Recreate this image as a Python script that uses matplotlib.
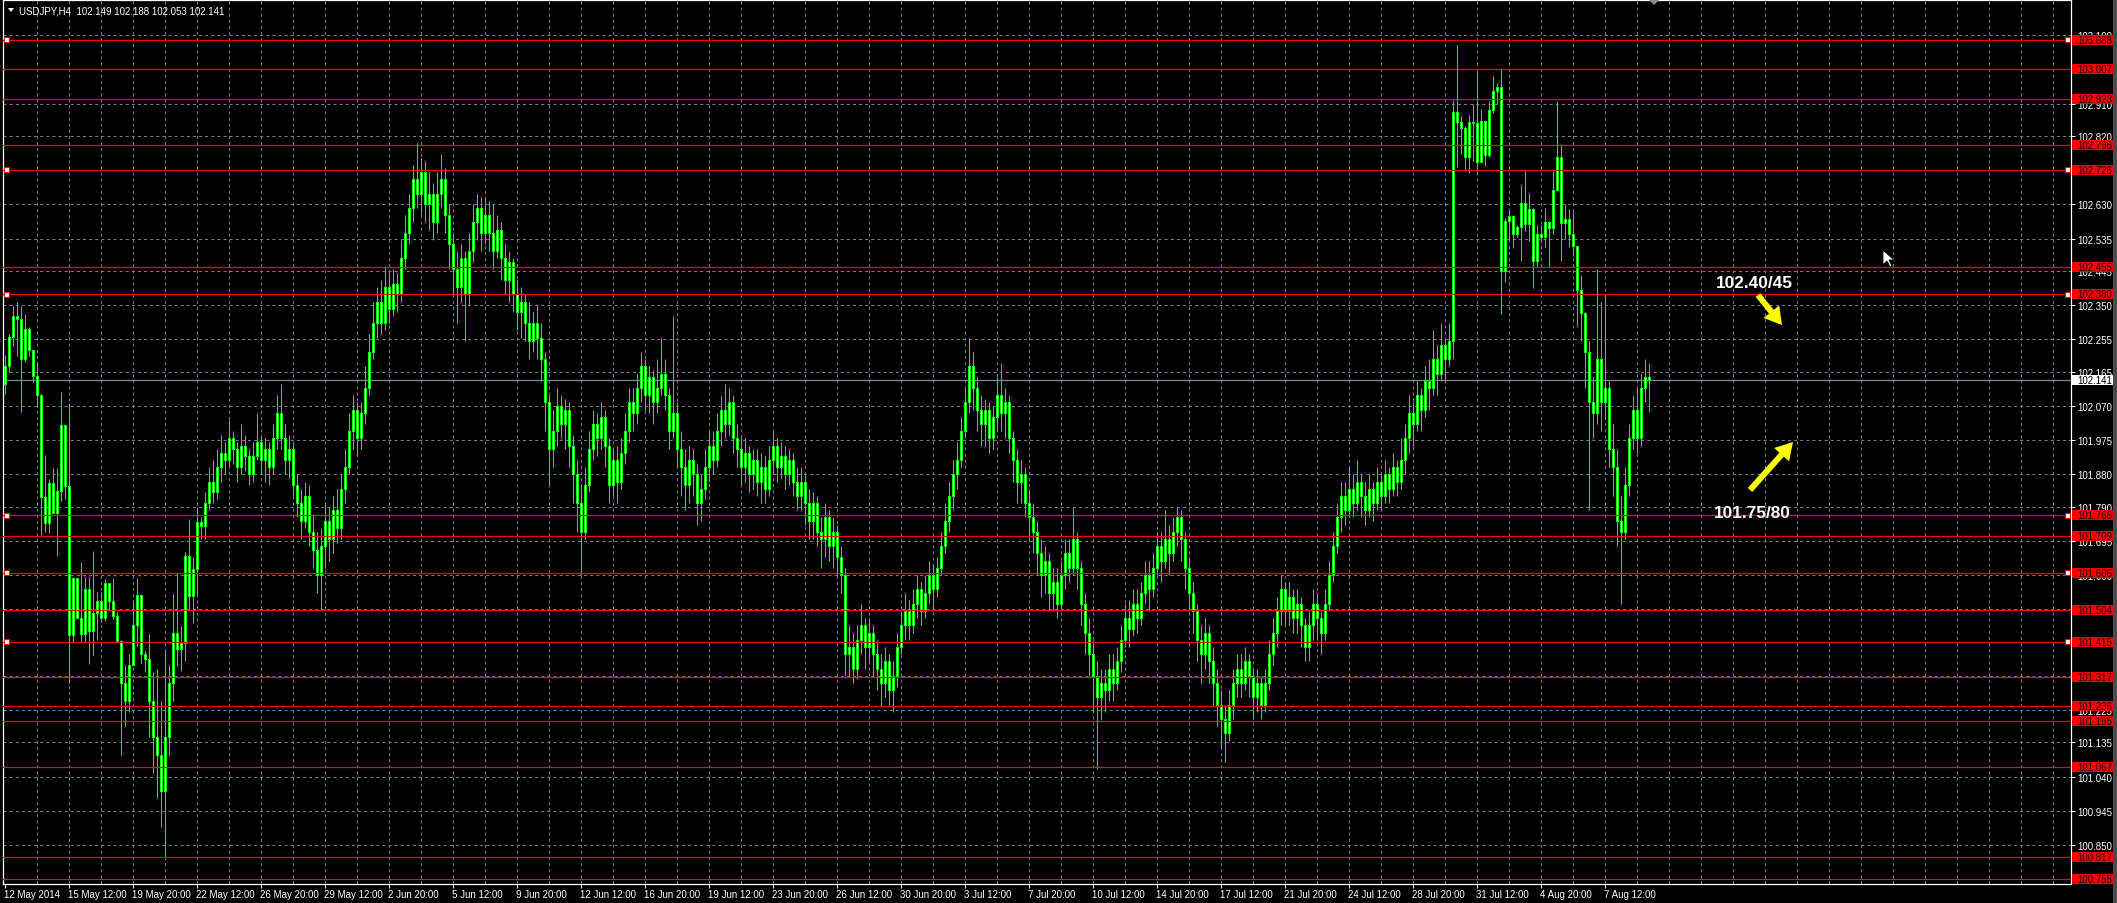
import matplotlib
matplotlib.use('Agg')
import matplotlib.pyplot as plt
from matplotlib.patches import Rectangle, Polygon, FancyArrow
from matplotlib.transforms import IdentityTransform

plt.rcParams['lines.scale_dashes'] = False
FONT = 'Liberation Sans'

# ---------------- data ----------------
first_open = 102.131
closes = [
102.180, 102.261, 102.319, 102.312, 102.200, 102.284, 102.226, 102.152, 102.100, 101.816,
101.744, 101.856, 101.772, 101.833, 102.017, 101.847, 101.434, 101.591, 101.480, 101.435,
101.561, 101.444, 101.495, 101.529, 101.480, 101.578, 101.529, 101.485, 101.416, 101.300,
101.250, 101.350, 101.462, 101.545, 101.380, 101.367, 101.250, 101.150, 101.100, 101.000,
101.150, 101.300, 101.438, 101.395, 101.410, 101.654, 101.541, 101.617, 101.748, 101.735,
101.80, 101.86, 101.83, 101.90, 101.94, 101.92, 101.98, 101.95, 101.90, 101.96,
101.93, 101.88, 101.93, 101.97, 101.92, 101.95, 101.90, 101.98, 102.05, 101.98,
101.92, 101.95, 101.85, 101.80, 101.75, 101.82, 101.72, 101.67, 101.60, 101.68,
101.75, 101.70, 101.78, 101.73, 101.84, 101.90, 102.00, 102.06, 101.98, 102.05,
102.12, 102.22, 102.30, 102.36, 102.30, 102.40, 102.34, 102.41, 102.38, 102.48,
102.55, 102.62, 102.70, 102.66, 102.72, 102.63, 102.66, 102.58, 102.66, 102.70,
102.60, 102.52, 102.45, 102.40, 102.48, 102.38, 102.50, 102.58, 102.62, 102.55,
102.60, 102.55, 102.50, 102.56, 102.48, 102.42, 102.47, 102.38, 102.33, 102.36,
102.30, 102.25, 102.30, 102.26, 102.20, 102.08, 101.95, 102.00, 102.07, 102.02,
102.06, 101.96, 101.88, 101.80, 101.72, 101.85, 101.95, 102.02, 101.98, 102.04,
101.96, 101.85, 101.92, 101.86, 101.94, 102.00, 102.08, 102.05, 102.12, 102.18,
102.10, 102.15, 102.08, 102.12, 102.16, 102.10, 102.00, 102.05, 101.95, 101.90,
101.85, 101.92, 101.88, 101.80, 101.84, 101.90, 101.96, 101.92, 102.00, 102.06,
102.02, 102.08, 101.98, 101.95, 101.90, 101.94, 101.88, 101.92, 101.86, 101.90,
101.84, 101.92, 101.96, 101.90, 101.93, 101.88, 101.92, 101.86, 101.82, 101.86,
101.80, 101.75, 101.80, 101.72, 101.70, 101.76, 101.68, 101.72, 101.65, 101.60,
101.38, 101.40, 101.34, 101.42, 101.46, 101.40, 101.44, 101.38, 101.34, 101.30,
101.36, 101.28, 101.32, 101.40, 101.46, 101.50, 101.46, 101.52, 101.56, 101.50,
101.55, 101.60, 101.56, 101.62, 101.68, 101.75, 101.82, 101.88, 101.92, 102.00,
102.08, 102.18, 102.12, 102.06, 102.02, 102.06, 101.98, 102.04, 102.10, 102.05,
102.08, 101.98, 101.92, 101.86, 101.88, 101.80, 101.76, 101.72, 101.66, 101.60,
101.64, 101.55, 101.58, 101.52, 101.60, 101.66, 101.62, 101.70, 101.62, 101.52,
101.44, 101.38, 101.32, 101.26, 101.30, 101.28, 101.34, 101.30, 101.36, 101.42,
101.48, 101.45, 101.52, 101.48, 101.55, 101.60, 101.56, 101.62, 101.68, 101.64,
101.70, 101.66, 101.72, 101.76, 101.70, 101.62, 101.55, 101.50, 101.42, 101.38,
101.44, 101.36, 101.30, 101.24, 101.20, 101.16, 101.24, 101.30, 101.34, 101.30,
101.36, 101.32, 101.26, 101.30, 101.24, 101.30, 101.38, 101.44, 101.50, 101.56,
101.50, 101.54, 101.48, 101.52, 101.46, 101.40, 101.46, 101.52, 101.48, 101.44,
101.52, 101.60, 101.68, 101.76, 101.82, 101.78, 101.84, 101.80, 101.86, 101.82,
101.78, 101.84, 101.80, 101.86, 101.82, 101.88, 101.84, 101.90, 101.86, 101.92,
101.98, 102.05, 102.02, 102.10, 102.06, 102.14, 102.12, 102.20, 102.16, 102.24,
102.20, 102.25, 102.888, 102.858, 102.841, 102.762, 102.858, 102.855, 102.747, 102.861,
102.767, 102.892, 102.944, 102.955, 102.446, 102.583, 102.599, 102.549, 102.566, 102.633,
102.575, 102.616, 102.472, 102.549, 102.538, 102.580, 102.563, 102.669, 102.763, 102.577,
102.589, 102.549, 102.515, 102.392, 102.328, 102.22, 102.08, 102.05, 102.20, 102.08,
102.12, 101.95, 101.90, 101.75, 101.72, 101.85, 101.98, 102.06, 101.98, 102.12,
102.149, 102.141,
]
highs = [
102.212, 102.270, 102.349, 102.358, 102.349, 102.325, 102.288, 102.225, 102.191, 102.103,
101.934, 101.867, 101.898, 101.898, 102.108, 102.017, 102.078, 101.594, 101.584, 101.635,
101.596, 101.596, 101.666, 101.552, 101.552, 101.589, 101.559, 101.592, 101.497, 101.420,
101.350, 101.380, 101.524, 101.592, 101.547, 101.390, 101.436, 101.330, 101.340, 101.250,
101.390, 101.350, 101.547, 101.606, 101.459, 101.663, 101.756, 101.650, 101.790, 101.760,
101.83, 101.90, 101.92, 101.95, 101.99, 101.97, 102.03, 102.00, 101.97, 102.02,
101.99, 101.95, 101.97, 102.05, 101.99, 101.98, 101.97, 102.02, 102.10, 102.13,
102.02, 101.99, 101.97, 101.88, 101.84, 101.86, 101.85, 101.77, 101.72, 101.73,
101.80, 101.79, 101.82, 101.84, 101.88, 101.95, 102.05, 102.10, 102.08, 102.08,
102.18, 102.27, 102.36, 102.40, 102.42, 102.46, 102.44, 102.45, 102.44, 102.53,
102.60, 102.66, 102.74, 102.80, 102.76, 102.75, 102.72, 102.69, 102.72, 102.77,
102.73, 102.63, 102.55, 102.50, 102.52, 102.50, 102.55, 102.63, 102.66, 102.65,
102.65, 102.64, 102.63, 102.60, 102.58, 102.52, 102.50, 102.48, 102.42, 102.40,
102.38, 102.36, 102.33, 102.35, 102.30, 102.22, 102.10, 102.06, 102.12, 102.10,
102.09, 102.08, 101.99, 101.92, 101.85, 101.90, 102.00, 102.06, 102.05, 102.08,
102.06, 101.98, 101.95, 101.96, 101.98, 102.05, 102.12, 102.12, 102.16, 102.22,
102.20, 102.18, 102.17, 102.20, 102.26, 102.20, 102.12, 102.32, 102.08, 102.00,
101.95, 101.96, 101.95, 101.91, 101.88, 101.95, 102.00, 102.00, 102.05, 102.10,
102.13, 102.12, 102.10, 102.02, 101.98, 101.98, 101.96, 101.95, 101.95, 101.94,
101.93, 101.96, 102.00, 101.98, 101.97, 101.96, 101.95, 101.94, 101.90, 101.90,
101.88, 101.84, 101.83, 101.82, 101.76, 101.80, 101.78, 101.76, 101.74, 101.68,
101.62, 101.46, 101.44, 101.46, 101.52, 101.48, 101.48, 101.46, 101.42, 101.38,
101.40, 101.38, 101.36, 101.44, 101.50, 101.55, 101.53, 101.56, 101.60, 101.58,
101.60, 101.64, 101.63, 101.65, 101.72, 101.80, 101.86, 101.92, 101.97, 102.04,
102.12, 102.26, 102.22, 102.15, 102.10, 102.09, 102.08, 102.07, 102.15, 102.19,
102.12, 102.10, 102.00, 101.95, 101.92, 101.90, 101.84, 101.80, 101.75, 101.70,
101.68, 101.66, 101.62, 101.62, 101.64, 101.70, 101.70, 101.79, 101.72, 101.64,
101.55, 101.48, 101.42, 101.36, 101.34, 101.34, 101.38, 101.38, 101.40, 101.46,
101.52, 101.53, 101.56, 101.56, 101.58, 101.64, 101.64, 101.66, 101.72, 101.72,
101.78, 101.74, 101.76, 101.79, 101.78, 101.72, 101.65, 101.58, 101.52, 101.46,
101.48, 101.46, 101.40, 101.34, 101.28, 101.24, 101.28, 101.34, 101.38, 101.38,
101.40, 101.38, 101.34, 101.34, 101.32, 101.34, 101.42, 101.48, 101.54, 101.60,
101.58, 101.58, 101.56, 101.56, 101.54, 101.48, 101.50, 101.56, 101.55, 101.50,
101.56, 101.64, 101.72, 101.80, 101.86, 101.86, 101.90, 101.88, 101.92, 101.88,
101.86, 101.88, 101.86, 101.90, 101.88, 101.92, 101.90, 101.94, 101.92, 101.98,
102.02, 102.10, 102.08, 102.14, 102.12, 102.18, 102.20, 102.28, 102.24, 102.30,
102.26, 102.30, 102.920, 103.073, 102.875, 102.849, 102.878, 102.909, 103.001, 102.895,
102.858, 102.918, 102.988, 102.967, 103.008, 102.591, 102.617, 102.589, 102.573, 102.684,
102.722, 102.661, 102.619, 102.573, 102.573, 102.619, 102.583, 102.722, 102.918, 102.799,
102.631, 102.617, 102.610, 102.513, 102.434, 102.33, 102.25, 102.15, 102.45, 102.36,
102.38, 102.14, 102.02, 101.95, 101.82, 101.90, 102.02, 102.10, 102.12, 102.16,
102.20, 102.188,
]
lows = [
102.103, 102.163, 102.237, 102.210, 102.054, 102.193, 102.210, 102.136, 102.066, 101.711,
101.719, 101.717, 101.772, 101.654, 101.807, 101.811, 101.300, 101.413, 101.480, 101.413,
101.413, 101.353, 101.378, 101.420, 101.469, 101.473, 101.506, 101.478, 101.416, 101.100,
101.180, 101.220, 101.381, 101.404, 101.357, 101.330, 101.150, 101.050, 100.980, 100.900,
100.817, 101.100, 101.250, 101.348, 101.334, 101.360, 101.506, 101.468, 101.547, 101.700,
101.70, 101.78, 101.80, 101.81, 101.86, 101.88, 101.90, 101.91, 101.86, 101.88,
101.89, 101.85, 101.86, 101.92, 101.88, 101.86, 101.85, 101.88, 101.95, 101.95,
101.88, 101.87, 101.82, 101.76, 101.70, 101.73, 101.68, 101.62, 101.55, 101.50,
101.62, 101.64, 101.66, 101.69, 101.70, 101.80, 101.88, 101.95, 101.93, 101.95,
102.02, 102.10, 102.20, 102.26, 102.27, 102.28, 102.30, 102.32, 102.33, 102.36,
102.45, 102.52, 102.58, 102.62, 102.60, 102.58, 102.56, 102.53, 102.55, 102.62,
102.55, 102.45, 102.38, 102.30, 102.36, 102.25, 102.35, 102.47, 102.53, 102.50,
102.52, 102.50, 102.45, 102.48, 102.42, 102.38, 102.36, 102.33, 102.28, 102.26,
102.25, 102.20, 102.22, 102.20, 102.14, 102.00, 101.85, 101.90, 101.96, 101.98,
101.95, 101.90, 101.80, 101.72, 101.60, 101.70, 101.83, 101.92, 101.93, 101.95,
101.90, 101.80, 101.82, 101.80, 101.84, 101.91, 101.97, 102.00, 102.02, 102.08,
102.06, 102.05, 102.02, 102.05, 102.10, 102.06, 101.95, 101.98, 101.90, 101.82,
101.78, 101.80, 101.82, 101.74, 101.75, 101.81, 101.86, 101.88, 101.90, 101.96,
101.98, 101.99, 101.94, 101.90, 101.85, 101.86, 101.83, 101.84, 101.82, 101.80,
101.80, 101.82, 101.88, 101.86, 101.87, 101.84, 101.85, 101.82, 101.78, 101.78,
101.74, 101.70, 101.70, 101.68, 101.62, 101.65, 101.64, 101.62, 101.60, 101.55,
101.32, 101.32, 101.30, 101.31, 101.38, 101.34, 101.36, 101.32, 101.28, 101.24,
101.26, 101.24, 101.22, 101.29, 101.38, 101.42, 101.42, 101.44, 101.48, 101.46,
101.48, 101.52, 101.50, 101.54, 101.60, 101.66, 101.72, 101.78, 101.84, 101.90,
101.98, 102.05, 102.06, 102.00, 101.96, 101.96, 101.94, 101.95, 102.00, 102.00,
101.98, 101.94, 101.86, 101.80, 101.80, 101.76, 101.70, 101.66, 101.60, 101.54,
101.55, 101.50, 101.50, 101.48, 101.50, 101.56, 101.58, 101.60, 101.56, 101.46,
101.38, 101.32, 101.22, 101.06, 101.20, 101.22, 101.25, 101.25, 101.28, 101.33,
101.40, 101.40, 101.43, 101.44, 101.46, 101.52, 101.50, 101.54, 101.60, 101.58,
101.62, 101.60, 101.64, 101.68, 101.64, 101.56, 101.50, 101.44, 101.36, 101.30,
101.34, 101.30, 101.24, 101.18, 101.12, 101.08, 101.14, 101.20, 101.26, 101.26,
101.28, 101.26, 101.20, 101.22, 101.20, 101.22, 101.28, 101.35, 101.40, 101.46,
101.46, 101.46, 101.44, 101.44, 101.40, 101.36, 101.36, 101.42, 101.42, 101.38,
101.42, 101.50, 101.58, 101.66, 101.72, 101.74, 101.76, 101.76, 101.78, 101.76,
101.74, 101.76, 101.75, 101.78, 101.78, 101.80, 101.80, 101.82, 101.82, 101.84,
101.88, 101.94, 101.96, 102.00, 102.00, 102.04, 102.06, 102.10, 102.10, 102.14,
102.14, 102.18, 102.200, 102.733, 102.770, 102.724, 102.716, 102.751, 102.719, 102.747,
102.737, 102.761, 102.884, 102.909, 102.325, 102.415, 102.534, 102.509, 102.540, 102.474,
102.557, 102.527, 102.399, 102.455, 102.525, 102.511, 102.455, 102.548, 102.669, 102.472,
102.534, 102.511, 102.487, 102.293, 102.250, 102.12, 101.78, 101.98, 102.02, 102.00,
102.04, 101.90, 101.82, 101.68, 101.52, 101.70, 101.82, 101.95, 101.94, 101.96,
102.08, 102.053,
]

date_labels = ["12 May 2014", "15 May 12:00", "19 May 20:00", "22 May 12:00", "26 May 20:00",
               "29 May 12:00", "2 Jun 20:00", "5 Jun 12:00", "9 Jun 20:00", "12 Jun 12:00",
               "16 Jun 20:00", "19 Jun 12:00", "23 Jun 20:00", "26 Jun 12:00", "30 Jun 20:00",
               "3 Jul 12:00", "7 Jul 20:00", "10 Jul 12:00", "14 Jul 20:00", "17 Jul 12:00",
               "21 Jul 20:00", "24 Jul 12:00", "28 Jul 20:00", "31 Jul 12:00", "4 Aug 20:00",
               "7 Aug 12:00"]
bars_per_label = 16

grid_prices = [103.100, 103.005, 102.910, 102.820, 102.725, 102.630, 102.535, 102.445,
               102.350, 102.255, 102.165, 102.070, 101.975, 101.880, 101.790, 101.695,
               101.600, 101.505, 101.415, 101.320, 101.225, 101.135, 101.040, 100.945,
               100.850, 100.755]

level_prices = [103.088, 103.007, 102.923, 102.796, 102.726, 102.455, 102.380, 101.766,
                101.709, 101.606, 101.504, 101.415, 101.317, 101.236, 101.195, 101.067,
                100.817, 100.755]
marked_levels = [103.088, 102.726, 102.380, 101.766, 101.606, 101.415]
last_price = 102.141
header = "USDJPY,H4  102.149 102.188 102.053 102.141"
notes = [("102.40/45", 1754, 284), ("101.75/80", 1752, 513)]

# ---------------- layout ----------------
W, H = 2117, 904
n = min(len(closes), len(highs), len(lows))
closes, highs, lows = closes[:n], highs[:n], lows[:n]
opens = [first_open] + closes[:-1]

fig = plt.figure(figsize=(W / 100, H / 100), dpi=100, facecolor='black')
ax_left, ax_right, ax_top, ax_bot = 3, 2071, 1, 885
ax = fig.add_axes([ax_left / W, (H - ax_bot) / H, (ax_right - ax_left) / W, (ax_bot - ax_top) / H])
ax.set_facecolor('black')
xmin = -0.375
xmax = xmin + (ax_right - ax_left) / 4.0
ymax = 102.820 + (137 - ax_top) / 359.9
ymin = 102.820 - (ax_bot - 137) / 359.9
ax.set_xlim(xmin, xmax)
ax.set_ylim(ymin, ymax)

GRID = '#6f8090'
DASH = (0, (2.2, 2.2))
for p in grid_prices:
    ax.axhline(p, color=GRID, lw=0.72, ls=DASH, zorder=1)
k = 8
while k < xmax:
    ax.axvline(k, color=GRID, lw=0.72, ls=DASH, zorder=1)
    k += 8

# candles
xs = list(range(n))
hi = [max(h, o, c) for h, o, c in zip(highs, opens, closes)]
lo = [min(l, o, c) for l, o, c in zip(lows, opens, closes)]
ax.vlines(xs, lo, hi, color='#00ff00', lw=0.75, zorder=3)
bottoms = [min(o, c) for o, c in zip(opens, closes)]
heights = [max(abs(c - o), 0.0006) for o, c in zip(opens, closes)]
ax.bar(xs, heights, bottom=bottoms, width=0.5, facecolor='white', edgecolor='#00ff00',
       linewidth=0.75, zorder=4)

# horizontal levels
for p in level_prices:
    ax.axhline(p, color='#ff0000', lw=0.9, zorder=5)
ax.axhline(last_price, color='#7a8a9a', lw=0.9, zorder=2)

for sp in ax.spines.values():
    sp.set_color('white')
    sp.set_linewidth(0.9)

# axes ticks
ax.yaxis.tick_right()
ax.set_yticks(grid_prices)
ax.set_yticklabels(['%.3f' % p for p in grid_prices])
ax.tick_params(axis='y', colors='white', length=3, width=0.75, pad=1.5, labelsize=7)
xt = [i * bars_per_label for i in range(len(date_labels))]
ax.set_xticks(xt)
ax.set_xticklabels(date_labels)
ax.tick_params(axis='x', colors='white', length=3, width=0.75, pad=0.5, labelsize=7)
for t in ax.get_xticklabels():
    t.set_ha('left')
    t.set_fontfamily(FONT)
for t in ax.get_yticklabels():
    t.set_fontfamily(FONT)


def ypx(p):
    return ax_top + (ymax - p) / (ymax - ymin) * (ax_bot - ax_top)


def box_label(p, txt, fc, tc):
    yc = ypx(p)
    fig.patches.append(Rectangle((2072 / W, (H - yc - 5) / H), 41 / W, 10 / H,
                                 transform=fig.transFigure, facecolor=fc, edgecolor='none', zorder=10))
    fig.text(2077 / W, (H - yc) / H, txt, color=tc, fontsize=7, family=FONT,
             va='center', ha='left', zorder=11)


for p in level_prices:
    box_label(p, '%.3f' % p, '#ff0000', '#1a0000')
box_label(last_price, '%.3f' % last_price, 'white', 'black')

# square markers on marked levels
for p in marked_levels:
    yc = ypx(p)
    for xc in (6, 2067):
        fig.patches.append(Rectangle(((xc - 2.5) / W, (H - yc - 2.5) / H), 5 / W, 5 / H,
                                     transform=fig.transFigure, facecolor='white',
                                     edgecolor='#ff0000', lw=0.8, zorder=12))

# header
fig.patches.append(Polygon([[8 / W, (H - 9) / H], [14 / W, (H - 9) / H], [11 / W, (H - 13) / H]],
                           closed=True, transform=fig.transFigure, facecolor='white', edgecolor='none'))
fig.text(19 / W, (H - 11) / H, header, color='white', fontsize=7, family=FONT, va='center', ha='left')

# chart shift marker
fig.patches.append(Polygon([[1649 / W, (H - 1) / H], [1659 / W, (H - 1) / H], [1654 / W, (H - 6) / H]],
                           closed=True, transform=fig.transFigure, facecolor='#8a8a8a', edgecolor='none'))

# annotations
for txt, xc, yc in notes:
    fig.text(xc / W, (H - yc) / H, txt, color='white', fontsize=12.4, family=FONT,
             fontweight='bold', ha='center', va='center', zorder=20)
for (x0, y0, x1, y1) in [(1758, 296, 1782, 326), (1750, 491, 1793, 443)]:
    arr = FancyArrow(x0, H - y0, x1 - x0, -(y1 - y0), width=6, head_width=20, head_length=17,
                     length_includes_head=True, facecolor='#ffff00', edgecolor='none',
                     transform=IdentityTransform(), zorder=20)
    fig.add_artist(arr)

# mouse cursor
cx, cy = 1883, 251
cur = [(0, 0), (0, 15), (4, 11), (7, 17), (9, 16), (6, 10), (11, 10)]
fig.patches.append(Polygon([[(cx + a) / W, (H - cy - b) / H] for a, b in cur], closed=True,
                           transform=fig.transFigure, facecolor='white', edgecolor='black',
                           lw=0.6, zorder=25))

# right window edge
fig.patches.append(Rectangle((2113 / W, 0), 4 / W, 1, transform=fig.transFigure,
                             facecolor='#4a4a4a', edgecolor='none'))

fig.savefig('out.png', dpi=100, facecolor='black')
